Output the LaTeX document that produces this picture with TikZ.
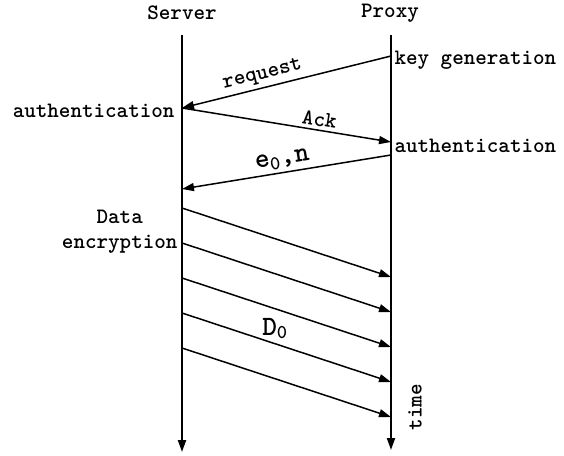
\documentclass[tikz,border=0pt]{standalone}
\usetikzlibrary{arrows.meta, positioning}

\begin{document}
\begin{tikzpicture}[x=1pt, y=-1pt,
    every node/.style={font=\ttfamily\bfseries\fontsize{22}{25}\selectfont},
    life/.style={line width=2pt, -{Triangle[length=12pt, width=8pt]}},
    msg/.style={line width=1.5pt, -{Triangle[length=12pt, width=8pt]}},
    big/.style={font=\ttfamily\bfseries\fontsize{28}{30}\selectfont}]
    \useasboundingbox (0,0) rectangle (564,455);

    \node (srv) at (182,13) {Server};
    \node (prx) at (390,13) {Proxy};
    \coordinate (srvtop) at (182,35);
    \coordinate (srvend) at (182,452);
    \coordinate (prxtop) at (391,35);
    \coordinate (prxend) at (391,450);
    \draw[life] (srvtop) -- (srvend);
    \draw[life] (prxtop) -- (prxend);

    \coordinate (p1) at (391,56);
    \coordinate (s1) at (182,108);
    \coordinate (p2) at (391,142);
    \coordinate (p3) at (391,155);
    \coordinate (s2) at (182,189);

    \node[right=0pt of p1, yshift=-4pt] (keygen) {key generation};
    \node[left=4pt of s1, yshift=-3pt] (authsrv) {authentication};
    \node[right=0pt of p2, yshift=-4pt] (authprx) {authentication};

    \draw[msg] (p1) -- node[sloped, above, pos=0.6] (req) {request} (s1);
    \draw[msg] (s1) -- node[sloped, above, pos=0.65] (ack) {Ack} (p2);
    \draw[msg] (p3) -- node[sloped, above, pos=0.51, big] (key) {e\textsubscript{0},n} (s2);

    % data stream
    \foreach \y [count=\i] in {208,243,278,313,348} {
        \coordinate (ds\i) at (182,\y);
        \coordinate (dp\i) at (391,\y+69);
        \draw[msg] (ds\i) -- (dp\i);
    }
    \node[left=1pt of ds2, yshift=11pt, align=center] (enc) {Data\\encryption};
    \path (ds4) -- node[pos=0.445, above=1pt, big] (data) {D\textsubscript{0}} (dp4);

    \node[rotate=90] (tm) at (415,407) {time};
\end{tikzpicture}
\end{document}
